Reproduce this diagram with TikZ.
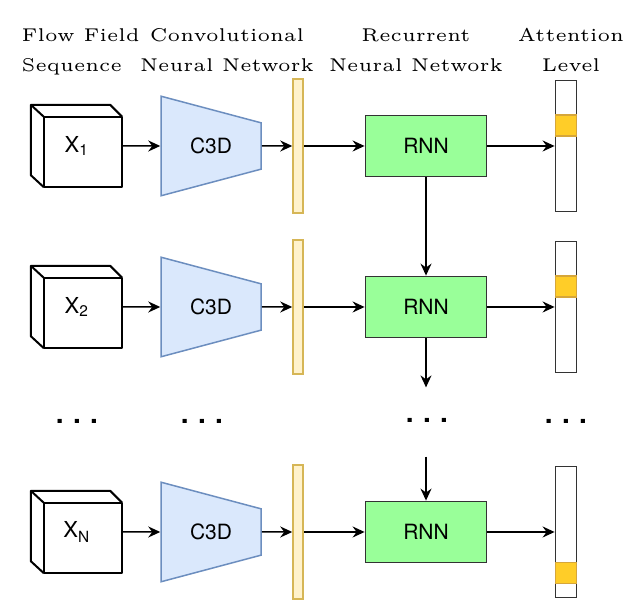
\documentclass[tikz,border=0pt]{standalone}
\usepackage{fontspec}
\newfontfamily\helv{TeX Gyre Heros}
\usetikzlibrary{shapes.geometric, arrows.meta}
\definecolor{convfill}{HTML}{DAE8FC}
\definecolor{convline}{HTML}{6C8EBF}
\definecolor{featfill}{HTML}{FFF2CC}
\definecolor{featline}{HTML}{D6B656}
\definecolor{rnnfill}{HTML}{99FF99}
\definecolor{rnnline}{HTML}{333333}
\definecolor{focusfill}{HTML}{FFCD28}
\definecolor{focusline}{HTML}{D6A63A}
\tikzstyle{cubeline} = [line width=2pt, black, line join=round]
\tikzstyle{cube} = [rectangle, minimum width=91pt, minimum height=82pt, inner sep=0pt, font=\helv\fontsize{22}{22}\selectfont,
  append after command={\pgfextra{
    \draw[cubeline] ([xshift=13pt]\tikzlastnode.south west) rectangle ([yshift=-12pt]\tikzlastnode.north east);
    \draw[cubeline] ([xshift=13pt]\tikzlastnode.south west) -- ([yshift=12pt]\tikzlastnode.south west) -- (\tikzlastnode.north west) -- ([xshift=-12pt]\tikzlastnode.north east) -- ([yshift=-12pt]\tikzlastnode.north east);
    \draw[cubeline] (\tikzlastnode.north west) -- ([xshift=13pt,yshift=-12pt]\tikzlastnode.north west);}}]
\tikzstyle{conv} = [trapezium, trapezium left angle=75, trapezium right angle=75, shape border rotate=270, trapezium stretches=true, minimum width=100pt, minimum height=100pt, draw=convline, fill=convfill, line width=1.5pt, font=\helv\fontsize{21}{21}\selectfont]
\tikzstyle{feature} = [rectangle, minimum width=10pt, minimum height=134pt, inner sep=0pt, draw=featline, fill=featfill, line width=1.5pt]
\tikzstyle{rnn} = [rectangle, minimum width=121pt, minimum height=61pt, draw=rnnline, fill=rnnfill, line width=1.8pt, font=\helv\fontsize{21}{21}\selectfont]
\tikzstyle{attention} = [rectangle, minimum width=21pt, minimum height=131pt, inner sep=0pt, draw=rnnline, fill=white, line width=1.8pt]
\tikzstyle{focus} = [rectangle, minimum width=21pt, minimum height=21pt, inner sep=0pt, draw=focusline, fill=focusfill, line width=1.3pt]
\tikzstyle{header} = [font=\fontsize{5}{8.2}\selectfont, scale=3.7, transform shape, inner sep=0pt, align=center, anchor=base]
\tikzstyle{ellip} = [font=\helv\bfseries\fontsize{28}{28}\selectfont, inner sep=0pt]
\tikzstyle{arrow} = [line width=1.5pt, ->, >={Stealth[length=12pt, width=11pt, inset=4pt]}]
\tikzstyle{line} = [line width=1.5pt]

\begin{document}
\begin{tikzpicture}[node distance=128pt]
\useasboundingbox (0pt,0pt) rectangle (638pt,601pt);
\node (hd1) [header, anchor=base west, align=left] at (21pt,529pt) {Flow Field\\Sequence};
\node (hd2) [header] at (227pt,529pt) {Convolutional\\Neural Network};
\node (hd3) [header] at (416pt,529pt) {Recurrent\\Neural Network};
\node (hd4) [header] at (571pt,529pt) {Attention\\Level};

\node (cube1) [cube] at (76.5pt,455pt) {X\textsubscript{1}};
\node (conv1) [conv, right of=cube1, xshift=6.5pt] {C3D};
\node (feat1) [feature, right of=conv1, xshift=-41pt] {};
\node (rnn1) [rnn, right of=feat1] {RNN};
\node (att1) [attention, right of=rnn1, xshift=12pt] {};
\node (hl1) [focus] at ([yshift=-46pt]att1.north) {};

\node (cube2) [cube, below of=cube1, yshift=-33pt] {X\textsubscript{2}};
\node (conv2) [conv, right of=cube2, xshift=6.5pt] {C3D};
\node (feat2) [feature, right of=conv2, xshift=-41pt] {};
\node (rnn2) [rnn, right of=feat2] {RNN};
\node (att2) [attention, right of=rnn2, xshift=12pt] {};
\node (hl2) [focus] at ([yshift=-46pt]att2.north) {};

\node (cube3) [cube, below of=cube2, yshift=-97pt] {X\textsubscript{N}};
\node (conv3) [conv, right of=cube3, xshift=6.5pt] {C3D};
\node (feat3) [feature, right of=conv3, xshift=-41pt] {};
\node (rnn3) [rnn, right of=feat3] {RNN};
\node (att3) [attention, right of=rnn3, xshift=12pt] {};
\node (hl3) [focus] at ([yshift=25.5pt]att3.south) {};

\node (dots1) [ellip] at (77pt,180pt) {.\,\,.\,\,.};
\node (dots2) [ellip] at (202pt,180pt) {.\,\,.\,\,.};
\node (dots3) [ellip] at (427pt,181pt) {.\,\,.\,\,.};
\node (dots4) [ellip] at (566pt,180pt) {.\,\,.\,\,.};
\coordinate (p1) at ([yshift=-49pt]rnn2.south);
\coordinate (p2) at ([yshift=44pt]rnn3.north);

\draw [arrow](cube1) -- (conv1);
\draw [arrow](conv1) -- (feat1);
\draw [arrow](feat1) -- (rnn1);
\draw [arrow](rnn1) -- (att1);
\draw [arrow](cube2) -- (conv2);
\draw [arrow](conv2) -- (feat2);
\draw [arrow](feat2) -- (rnn2);
\draw [arrow](rnn2) -- (att2);
\draw [arrow](cube3) -- (conv3);
\draw [arrow](conv3) -- (feat3);
\draw [arrow](feat3) -- (rnn3);
\draw [arrow](rnn3) -- (att3);
\draw [arrow](rnn1) -- (rnn2);
\draw [arrow](rnn2) -- (p1);
\draw [arrow](p2) -- (rnn3);
\end{tikzpicture}
\end{document}
